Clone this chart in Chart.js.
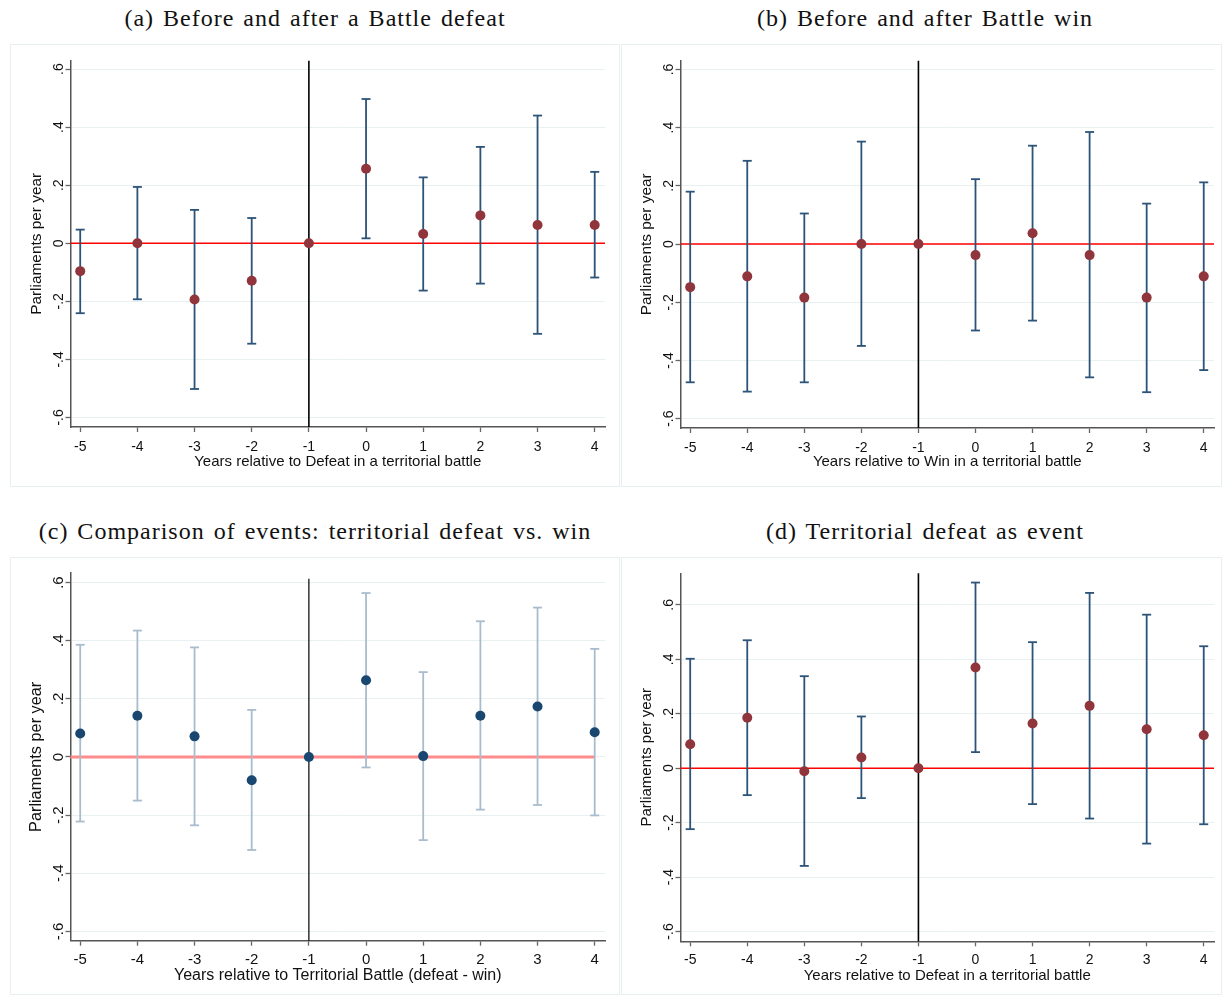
<!DOCTYPE html>
<html>
<head>
<meta charset="utf-8">
<script src="https://cdn.jsdelivr.net/npm/chart.js@4/dist/chart.umd.min.js"></script>
<style>
  body { margin: 0; background: #fff; width: 1222px; height: 995px; position: relative; overflow: hidden; }
  .title { position: absolute; width: 640px; text-align: center; white-space: nowrap;
           font-family: "Liberation Serif", "DejaVu Serif", serif; font-size: 24px; line-height: 24px;
           letter-spacing: 1px; word-spacing: 2px; color: #111; }
  .frame { position: absolute; border: 1.5px solid #e8eff1; box-sizing: border-box; }
  canvas { position: absolute; }
</style>
</head>
<body>
<div class="title" style="left:-5px;top:6px">(a) Before and after a Battle defeat</div>
<div class="title" style="left:605px;top:6px">(b) Before and after Battle win</div>
<div class="title" style="left:-5px;top:519px">(c) Comparison of events: territorial defeat vs. win</div>
<div class="title" style="left:605px;top:519px">(d) Territorial defeat as event</div>

<div class="frame" style="left:10px;top:44px;width:610px;height:443px"></div>
<div class="frame" style="left:621px;top:44px;width:601px;height:443px"></div>
<div class="frame" style="left:10px;top:557px;width:610px;height:438px"></div>
<div class="frame" style="left:621px;top:557px;width:601px;height:438px"></div>

<canvas id="chartA" width="610" height="443" style="left:10px;top:44px"></canvas>
<canvas id="chartB" width="601" height="443" style="left:621px;top:44px"></canvas>
<canvas id="chartC" width="610" height="438" style="left:10px;top:557px"></canvas>
<canvas id="chartD" width="601" height="438" style="left:621px;top:557px"></canvas>

<script>
// years relative to the event, and y tick values
const years = [-5, -4, -3, -2, -1, 0, 1, 2, 3, 4];
const yTicks = [-0.6, -0.4, -0.2, 0, 0.2, 0.4, 0.6];

// (a) defeat
const defeatCoef = [-0.096, 0, -0.194, -0.129, 0, 0.257, 0.032, 0.096, 0.063, 0.063];
const defeatLow  = [-0.241, -0.193, -0.502, -0.346, null, 0.017, -0.163, -0.139, -0.312, -0.118];
const defeatHigh = [0.047, 0.194, 0.115, 0.087, null, 0.497, 0.227, 0.332, 0.440, 0.246];

// (b) win
const winCoef = [-0.148, -0.111, -0.184, 0, 0, -0.038, 0.037, -0.038, -0.184, -0.111];
const winLow  = [-0.475, -0.507, -0.475, -0.350, null, -0.297, -0.263, -0.458, -0.509, -0.433];
const winHigh = [0.180, 0.286, 0.105, 0.352, null, 0.223, 0.338, 0.385, 0.139, 0.212];

// (c) defeat - win
const diffCoef = [0.081, 0.142, 0.071, -0.080, 0, 0.264, 0.003, 0.142, 0.174, 0.085];
const diffLow  = [-0.222, -0.150, -0.235, -0.320, null, -0.036, -0.286, -0.181, -0.165, -0.201];
const diffHigh = [0.386, 0.435, 0.377, 0.162, null, 0.564, 0.292, 0.467, 0.514, 0.372];

// (d) territorial defeat as event
const eventCoef = [0.088, 0.185, -0.011, 0.039, 0, 0.370, 0.164, 0.229, 0.143, 0.121];
const eventLow  = [-0.224, -0.099, -0.359, -0.110, null, 0.059, -0.132, -0.185, -0.277, -0.206];
const eventHigh = [0.402, 0.470, 0.338, 0.190, null, 0.682, 0.463, 0.644, 0.564, 0.448];

const sans = '"Liberation Sans", Arial, sans-serif';
const navy = '#1a476f';
const maroon = '#90353b';

function fmtTick(v) {
  if (Math.abs(v) < 1e-9) return '0';
  return (v < 0 ? '-' : '') + Math.abs(v).toFixed(1).replace(/^0/, '');
}

// Stata style vertical y tick labels
const yTickLabels = {
  id: 'yTickLabels',
  afterDraw(chart, args, opts) {
    const s = chart.scales.y;
    const ctx = chart.ctx;
    ctx.save();
    ctx.font = opts.size + 'px ' + sans;
    ctx.fillStyle = '#111';
    ctx.textAlign = 'center';
    ctx.textBaseline = 'alphabetic';
    s.ticks.forEach(t => {
      ctx.save();
      ctx.translate(s.right - opts.gap, s.getPixelForValue(t.value));
      ctx.rotate(-Math.PI / 2);
      ctx.fillText(fmtTick(t.value), 0, 0);
      ctx.restore();
    });
    ctx.restore();
  }
};

function makePanel(id, p) {
  const xMin = -5.17, xMax = 4.18;
  const bars = [];
  years.forEach((x, i) => {
    if (p.low[i] == null) return;
    bars.push({x: x, y: p.low[i]}, {x: x, y: p.high[i]}, {x: x, y: null});
  });

  return new Chart(id, {
    type: 'scatter',
    data: {
      datasets: [{
        data: years.map((x, i) => ({x: x, y: p.coef[i]})),
        pointRadius: 5,
        backgroundColor: p.pointColor,
        borderColor: p.pointColor,
        pointBorderWidth: 0,
        order: 0,
      }, {
        data: bars,
        showLine: true,
        spanGaps: false,
        borderColor: p.barColor,
        borderWidth: 1.8,
        pointStyle: 'line',
        pointRadius: 4.5,
        pointBorderColor: p.barColor,
        pointBorderWidth: 1.8,
        order: 1,
      }, {
        data: [{x: -1, y: p.yMin}, {x: -1, y: p.vTop}],
        showLine: true,
        borderColor: '#000',
        borderWidth: p.vWidth,
        pointRadius: 0,
        order: 2,
      }, {
        data: [{x: xMin, y: 0}, {x: p.zeroEnd, y: 0}],
        showLine: true,
        borderColor: p.zeroColor,
        borderWidth: p.zeroWidth,
        pointRadius: 0,
        order: 3,
      }],
    },
    options: {
      responsive: false,
      animation: false,
      events: [],
      clip: false,
      layout: {
        padding: {left: 0, top: p.top, right: p.right, bottom: 0},
      },
      plugins: {
        legend: { display: false },
        tooltip: { enabled: false },
        yTickLabels: { size: p.tickSize, gap: 7.5 },
      },
      scales: {
        x: {
          type: 'linear',
          min: xMin,
          max: xMax,
          afterBuildTicks: s => { s.ticks = years.map(v => ({value: v})); },
          afterFit: s => { s.height = p.xH; },
          ticks: {
            callback: v => String(v),
            font: { family: sans, size: p.tickSize },
            color: '#111',
            padding: p.xTickPad,
            autoSkip: false,
            maxRotation: 0,
          },
          grid: { drawOnChartArea: false, tickLength: 5, tickColor: '#666', tickWidth: 1.3 },
          border: { color: '#555', width: 1.5 },
          title: {
            display: true,
            text: p.xTitle,
            font: { family: sans, size: p.xTitleSize },
            color: '#111',
            padding: { top: 0, bottom: p.xTitlePad },
          },
        },
        y: {
          type: 'linear',
          min: p.yMin,
          max: p.yMax,
          afterBuildTicks: s => { s.ticks = yTicks.map(v => ({value: v})); },
          afterFit: s => { s.width = p.yW; },
          ticks: { display: false },
          grid: { color: '#e9f0f2', lineWidth: 1, tickLength: 5, tickColor: '#666', tickWidth: 1.3 },
          border: { color: '#555', width: 1.5 },
          title: {
            display: true,
            text: 'Parliaments per year',
            font: { family: sans, size: p.yTitleSize },
            color: '#111',
            padding: { top: p.yTitlePad, bottom: 0 },
          },
        },
      },
    },
    plugins: [yTickLabels],
  });
}

const defeatTitle = 'Years relative to Defeat in a territorial battle';

makePanel('chartA', {
  coef: defeatCoef, low: defeatLow, high: defeatHigh,
  pointColor: maroon, barColor: '#2c5378',
  zeroColor: '#ff0000', zeroWidth: 1.5, zeroEnd: 4.18, vTop: 0.629, vWidth: 1.6,
  yMin: -0.633, yMax: 0.629, top: 16.7, right: 15, yW: 60.5, xH: 60,
  xTitle: defeatTitle, tickSize: 14, xTickPad: 6.5, xTitleSize: 15, yTitleSize: 15.4,
  xTitlePad: 15.7, yTitlePad: 17.8,
});

makePanel('chartB', {
  coef: winCoef, low: winLow, high: winHigh,
  pointColor: maroon, barColor: '#2c5378',
  zeroColor: '#ff0000', zeroWidth: 1.5, zeroEnd: 4.18, vTop: 0.63, vWidth: 1.6,
  yMin: -0.632, yMax: 0.63, top: 16.7, right: 8, yW: 59.5, xH: 59,
  xTitle: 'Years relative to Win in a territorial battle', tickSize: 14, xTickPad: 6.5, xTitleSize: 15, yTitleSize: 15.4,
  xTitlePad: 15.7, yTitlePad: 16.8,
});

makePanel('chartC', {
  coef: diffCoef, low: diffLow, high: diffHigh,
  pointColor: navy, barColor: '#a9bccd',
  zeroColor: '#ff8c8c', zeroWidth: 3, zeroEnd: 4, vTop: 0.613, vWidth: 1.2,
  yMin: -0.632, yMax: 0.633, top: 16, right: 15, yW: 60.5, xH: 54.3,
  xTitle: 'Years relative to Territorial Battle (defeat - win)', tickSize: 15, xTickPad: 5, xTitleSize: 16, yTitleSize: 16.3,
  xTitlePad: 9.4, yTitlePad: 17.2,
});

makePanel('chartD', {
  coef: eventCoef, low: eventLow, high: eventHigh,
  pointColor: maroon, barColor: '#2c5378',
  zeroColor: '#ff0000', zeroWidth: 1.5, zeroEnd: 4.18, vTop: 0.716, vWidth: 1.6,
  yMin: -0.636, yMax: 0.716, top: 16.3, right: 8, yW: 59.5, xH: 53.7,
  xTitle: defeatTitle, tickSize: 14, xTickPad: 5, xTitleSize: 15, yTitleSize: 15,
  xTitlePad: 10.2, yTitlePad: 17,
});
</script>
</body>
</html>
